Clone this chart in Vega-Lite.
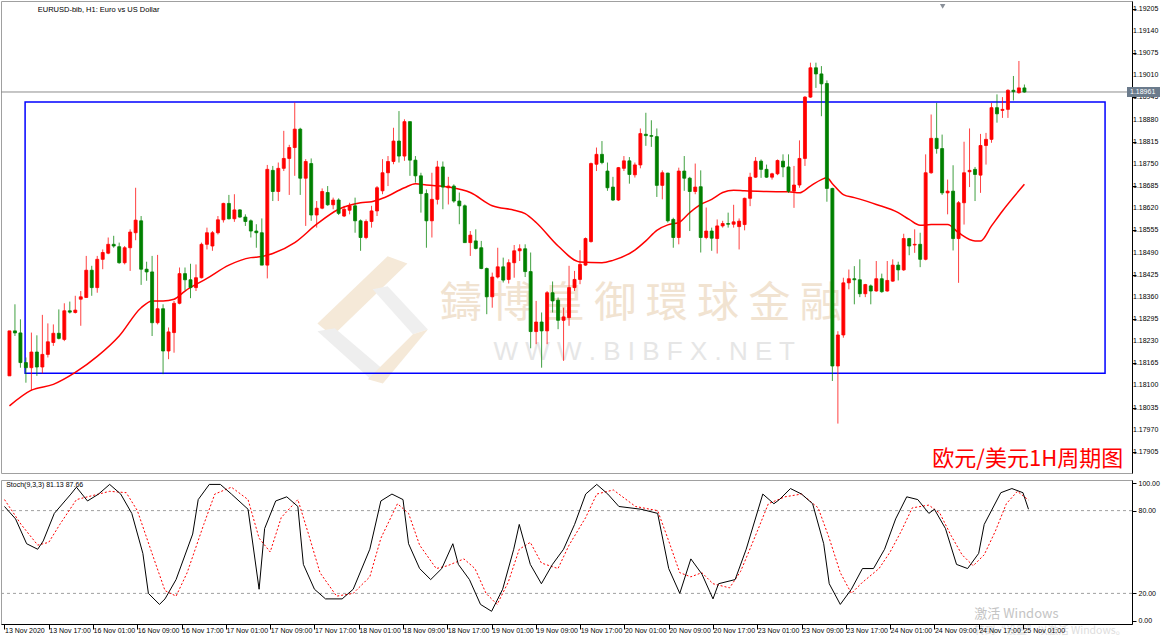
{
"$schema": "https://vega.github.io/schema/vega-lite/v6.json",
"padding": 0,
"background": "white",
"spacing": 4,
"config": {"view": {"stroke": "#a0a0a0", "strokeWidth": 1}, "font": "Liberation Sans", "axis": {"labelOverlap": false, "labelFlush": false}},
"datasets": {
"bars": [
{"i":0,"o":1.18128,"h":1.18260,"l":1.18128,"c":1.18260},
{"i":1,"o":1.18260,"h":1.18338,"l":1.18245,"c":1.18254},
{"i":2,"o":1.18254,"h":1.18294,"l":1.18152,"c":1.18167},
{"i":3,"o":1.18167,"h":1.18182,"l":1.18108,"c":1.18152},
{"i":4,"o":1.18152,"h":1.18255,"l":1.18084,"c":1.18198},
{"i":5,"o":1.18198,"h":1.18247,"l":1.18128,"c":1.18154},
{"i":6,"o":1.18154,"h":1.18307,"l":1.18135,"c":1.18191},
{"i":7,"o":1.18191,"h":1.18282,"l":1.18182,"c":1.18228},
{"i":8,"o":1.18226,"h":1.18279,"l":1.18216,"c":1.18253},
{"i":9,"o":1.18253,"h":1.18323,"l":1.18235,"c":1.18238},
{"i":10,"o":1.18235,"h":1.18341,"l":1.18230,"c":1.18319},
{"i":11,"o":1.18319,"h":1.18346,"l":1.18311,"c":1.18315},
{"i":12,"o":1.18314,"h":1.18363,"l":1.18311,"c":1.18321},
{"i":13,"o":1.18353,"h":1.18377,"l":1.18275,"c":1.18360},
{"i":14,"o":1.18358,"h":1.18480,"l":1.18358,"c":1.18438},
{"i":15,"o":1.18438,"h":1.18451,"l":1.18363,"c":1.18387},
{"i":16,"o":1.18387,"h":1.18480,"l":1.18372,"c":1.18470},
{"i":17,"o":1.18470,"h":1.18499,"l":1.18441,"c":1.18490},
{"i":18,"o":1.18488,"h":1.18534,"l":1.18485,"c":1.18514},
{"i":19,"o":1.18514,"h":1.18539,"l":1.18504,"c":1.18509},
{"i":20,"o":1.18507,"h":1.18519,"l":1.18457,"c":1.18460},
{"i":21,"o":1.18460,"h":1.18509,"l":1.18455,"c":1.18504},
{"i":22,"o":1.18504,"h":1.18558,"l":1.18436,"c":1.18550},
{"i":23,"o":1.18548,"h":1.18680,"l":1.18526,"c":1.18585},
{"i":24,"o":1.18583,"h":1.18597,"l":1.18395,"c":1.18441},
{"i":25,"o":1.18441,"h":1.18463,"l":1.18407,"c":1.18433},
{"i":26,"o":1.18433,"h":1.18480,"l":1.18245,"c":1.18284},
{"i":27,"o":1.18284,"h":1.18483,"l":1.18279,"c":1.18325},
{"i":28,"o":1.18325,"h":1.18338,"l":1.18133,"c":1.18201},
{"i":29,"o":1.18201,"h":1.18270,"l":1.18177,"c":1.18257},
{"i":30,"o":1.18255,"h":1.18348,"l":1.18196,"c":1.18341},
{"i":31,"o":1.18341,"h":1.18446,"l":1.18338,"c":1.18428},
{"i":32,"o":1.18428,"h":1.18446,"l":1.18379,"c":1.18410},
{"i":33,"o":1.18410,"h":1.18457,"l":1.18356,"c":1.18387},
{"i":34,"o":1.18387,"h":1.18455,"l":1.18377,"c":1.18416},
{"i":35,"o":1.18416,"h":1.18519,"l":1.18414,"c":1.18514},
{"i":36,"o":1.18514,"h":1.18563,"l":1.18499,"c":1.18548},
{"i":37,"o":1.18509,"h":1.18553,"l":1.18495,"c":1.18548},
{"i":38,"o":1.18548,"h":1.18597,"l":1.18543,"c":1.18586},
{"i":39,"o":1.18586,"h":1.18636,"l":1.18578,"c":1.18634},
{"i":40,"o":1.18634,"h":1.18659,"l":1.18587,"c":1.18589},
{"i":41,"o":1.18589,"h":1.18661,"l":1.18580,"c":1.18615},
{"i":42,"o":1.18615,"h":1.18617,"l":1.18592,"c":1.18594},
{"i":43,"o":1.18594,"h":1.18602,"l":1.18568,"c":1.18581},
{"i":44,"o":1.18583,"h":1.18587,"l":1.18534,"c":1.18553},
{"i":45,"o":1.18553,"h":1.18573,"l":1.18504,"c":1.18548},
{"i":46,"o":1.18548,"h":1.18590,"l":1.18453,"c":1.18453},
{"i":47,"o":1.18453,"h":1.18747,"l":1.18414,"c":1.18734},
{"i":48,"o":1.18731,"h":1.18744,"l":1.18641,"c":1.18669},
{"i":49,"o":1.18669,"h":1.18754,"l":1.18641,"c":1.18737},
{"i":50,"o":1.18737,"h":1.18847,"l":1.18729,"c":1.18766},
{"i":51,"o":1.18766,"h":1.18806,"l":1.18659,"c":1.18798},
{"i":52,"o":1.18798,"h":1.18930,"l":1.18715,"c":1.18852},
{"i":53,"o":1.18852,"h":1.18856,"l":1.18659,"c":1.18708},
{"i":54,"o":1.18708,"h":1.18764,"l":1.18568,"c":1.18757},
{"i":55,"o":1.18751,"h":1.18766,"l":1.18583,"c":1.18600},
{"i":56,"o":1.18600,"h":1.18641,"l":1.18563,"c":1.18620},
{"i":57,"o":1.18620,"h":1.18678,"l":1.18617,"c":1.18669},
{"i":58,"o":1.18666,"h":1.18685,"l":1.18627,"c":1.18630},
{"i":59,"o":1.18630,"h":1.18651,"l":1.18617,"c":1.18644},
{"i":60,"o":1.18644,"h":1.18649,"l":1.18600,"c":1.18605},
{"i":61,"o":1.18597,"h":1.18627,"l":1.18594,"c":1.18617},
{"i":62,"o":1.18614,"h":1.18636,"l":1.18602,"c":1.18627},
{"i":63,"o":1.18627,"h":1.18651,"l":1.18548,"c":1.18583},
{"i":64,"o":1.18583,"h":1.18587,"l":1.18495,"c":1.18534},
{"i":65,"o":1.18534,"h":1.18587,"l":1.18529,"c":1.18581},
{"i":66,"o":1.18581,"h":1.18627,"l":1.18563,"c":1.18612},
{"i":67,"o":1.18612,"h":1.18685,"l":1.18597,"c":1.18680},
{"i":68,"o":1.18671,"h":1.18764,"l":1.18661,"c":1.18724},
{"i":69,"o":1.18724,"h":1.18773,"l":1.18685,"c":1.18757},
{"i":70,"o":1.18757,"h":1.18856,"l":1.18749,"c":1.18817},
{"i":71,"o":1.18817,"h":1.18905,"l":1.18754,"c":1.18773},
{"i":72,"o":1.18773,"h":1.18881,"l":1.18759,"c":1.18874},
{"i":73,"o":1.18874,"h":1.18874,"l":1.18715,"c":1.18761},
{"i":74,"o":1.18761,"h":1.18773,"l":1.18695,"c":1.18715},
{"i":75,"o":1.18715,"h":1.18724,"l":1.18607,"c":1.18663},
{"i":76,"o":1.18663,"h":1.18675,"l":1.18504,"c":1.18583},
{"i":77,"o":1.18583,"h":1.18724,"l":1.18534,"c":1.18646},
{"i":78,"o":1.18646,"h":1.18759,"l":1.18631,"c":1.18741},
{"i":79,"o":1.18741,"h":1.18757,"l":1.18617,"c":1.18682},
{"i":80,"o":1.18680,"h":1.18712,"l":1.18631,"c":1.18685},
{"i":81,"o":1.18685,"h":1.18690,"l":1.18636,"c":1.18641},
{"i":82,"o":1.18641,"h":1.18666,"l":1.18573,"c":1.18627},
{"i":83,"o":1.18627,"h":1.18631,"l":1.18519,"c":1.18519},
{"i":84,"o":1.18519,"h":1.18553,"l":1.18480,"c":1.18541},
{"i":85,"o":1.18524,"h":1.18558,"l":1.18499,"c":1.18502},
{"i":86,"o":1.18504,"h":1.18524,"l":1.18441,"c":1.18443},
{"i":87,"o":1.18443,"h":1.18446,"l":1.18309,"c":1.18360},
{"i":88,"o":1.18360,"h":1.18431,"l":1.18328,"c":1.18418},
{"i":89,"o":1.18418,"h":1.18504,"l":1.18414,"c":1.18448},
{"i":90,"o":1.18448,"h":1.18475,"l":1.18402,"c":1.18409},
{"i":91,"o":1.18411,"h":1.18470,"l":1.18399,"c":1.18460},
{"i":92,"o":1.18460,"h":1.18512,"l":1.18416,"c":1.18495},
{"i":93,"o":1.18495,"h":1.18514,"l":1.18465,"c":1.18501},
{"i":94,"o":1.18501,"h":1.18514,"l":1.18418,"c":1.18434},
{"i":95,"o":1.18434,"h":1.18490,"l":1.18209,"c":1.18258},
{"i":96,"o":1.18258,"h":1.18348,"l":1.18221,"c":1.18286},
{"i":97,"o":1.18286,"h":1.18314,"l":1.18152,"c":1.18260},
{"i":98,"o":1.18260,"h":1.18377,"l":1.18221,"c":1.18372},
{"i":99,"o":1.18372,"h":1.18405,"l":1.18314,"c":1.18348},
{"i":100,"o":1.18350,"h":1.18358,"l":1.18265,"c":1.18291},
{"i":101,"o":1.18291,"h":1.18328,"l":1.18172,"c":1.18301},
{"i":102,"o":1.18299,"h":1.18451,"l":1.18275,"c":1.18387},
{"i":103,"o":1.18387,"h":1.18436,"l":1.18377,"c":1.18411},
{"i":104,"o":1.18411,"h":1.18497,"l":1.18397,"c":1.18455},
{"i":105,"o":1.18453,"h":1.18534,"l":1.18451,"c":1.18531},
{"i":106,"o":1.18522,"h":1.18754,"l":1.18519,"c":1.18751},
{"i":107,"o":1.18749,"h":1.18798,"l":1.18729,"c":1.18778},
{"i":108,"o":1.18778,"h":1.18817,"l":1.18749,"c":1.18754},
{"i":109,"o":1.18729,"h":1.18754,"l":1.18671,"c":1.18680},
{"i":110,"o":1.18682,"h":1.18712,"l":1.18641,"c":1.18644},
{"i":111,"o":1.18644,"h":1.18741,"l":1.18641,"c":1.18739},
{"i":112,"o":1.18737,"h":1.18773,"l":1.18729,"c":1.18759},
{"i":113,"o":1.18759,"h":1.18770,"l":1.18692,"c":1.18719},
{"i":114,"o":1.18718,"h":1.18754,"l":1.18710,"c":1.18747},
{"i":115,"o":1.18747,"h":1.18854,"l":1.18737,"c":1.18839},
{"i":116,"o":1.18837,"h":1.18900,"l":1.18803,"c":1.18833},
{"i":117,"o":1.18833,"h":1.18878,"l":1.18800,"c":1.18831},
{"i":118,"o":1.18830,"h":1.18854,"l":1.18653,"c":1.18687},
{"i":119,"o":1.18687,"h":1.18731,"l":1.18646,"c":1.18724},
{"i":120,"o":1.18723,"h":1.18724,"l":1.18578,"c":1.18583},
{"i":121,"o":1.18587,"h":1.18592,"l":1.18504,"c":1.18534},
{"i":122,"o":1.18534,"h":1.18739,"l":1.18514,"c":1.18729},
{"i":123,"o":1.18729,"h":1.18773,"l":1.18671,"c":1.18708},
{"i":124,"o":1.18708,"h":1.18712,"l":1.18553,"c":1.18669},
{"i":125,"o":1.18669,"h":1.18751,"l":1.18661,"c":1.18682},
{"i":126,"o":1.18683,"h":1.18731,"l":1.18490,"c":1.18534},
{"i":127,"o":1.18534,"h":1.18622,"l":1.18529,"c":1.18553},
{"i":128,"o":1.18553,"h":1.18563,"l":1.18495,"c":1.18532},
{"i":129,"o":1.18531,"h":1.18587,"l":1.18487,"c":1.18568},
{"i":130,"o":1.18568,"h":1.18583,"l":1.18563,"c":1.18575},
{"i":131,"o":1.18575,"h":1.18607,"l":1.18563,"c":1.18573},
{"i":132,"o":1.18573,"h":1.18630,"l":1.18563,"c":1.18580},
{"i":133,"o":1.18566,"h":1.18590,"l":1.18499,"c":1.18582},
{"i":134,"o":1.18572,"h":1.18651,"l":1.18555,"c":1.18649},
{"i":135,"o":1.18649,"h":1.18724,"l":1.18626,"c":1.18711},
{"i":136,"o":1.18711,"h":1.18770,"l":1.18709,"c":1.18758},
{"i":137,"o":1.18758,"h":1.18763,"l":1.18709,"c":1.18734},
{"i":138,"o":1.18734,"h":1.18748,"l":1.18709,"c":1.18711},
{"i":139,"o":1.18711,"h":1.18724,"l":1.18704,"c":1.18721},
{"i":140,"o":1.18721,"h":1.18763,"l":1.18717,"c":1.18760},
{"i":141,"o":1.18758,"h":1.18778,"l":1.18711,"c":1.18741},
{"i":142,"o":1.18741,"h":1.18778,"l":1.18665,"c":1.18670},
{"i":143,"o":1.18670,"h":1.18744,"l":1.18621,"c":1.18688},
{"i":144,"o":1.18688,"h":1.18819,"l":1.18680,"c":1.18766},
{"i":145,"o":1.18766,"h":1.18949,"l":1.18744,"c":1.18946},
{"i":146,"o":1.18946,"h":1.19047,"l":1.18944,"c":1.19032},
{"i":147,"o":1.19032,"h":1.19047,"l":1.18973,"c":1.19014},
{"i":148,"o":1.19014,"h":1.19037,"l":1.18890,"c":1.18985},
{"i":149,"o":1.18986,"h":1.18995,"l":1.18639,"c":1.18678},
{"i":150,"o":1.18678,"h":1.18680,"l":1.18113,"c":1.18157},
{"i":151,"o":1.18157,"h":1.18259,"l":1.17988,"c":1.18248},
{"i":152,"o":1.18248,"h":1.18416,"l":1.18240,"c":1.18401},
{"i":153,"o":1.18401,"h":1.18440,"l":1.18382,"c":1.18413},
{"i":154,"o":1.18413,"h":1.18450,"l":1.18338,"c":1.18410},
{"i":155,"o":1.18410,"h":1.18470,"l":1.18359,"c":1.18369},
{"i":156,"o":1.18369,"h":1.18398,"l":1.18359,"c":1.18396},
{"i":157,"o":1.18392,"h":1.18396,"l":1.18338,"c":1.18377},
{"i":158,"o":1.18377,"h":1.18465,"l":1.18375,"c":1.18413},
{"i":159,"o":1.18413,"h":1.18428,"l":1.18372,"c":1.18375},
{"i":160,"o":1.18377,"h":1.18465,"l":1.18375,"c":1.18408},
{"i":161,"o":1.18406,"h":1.18470,"l":1.18404,"c":1.18453},
{"i":162,"o":1.18453,"h":1.18463,"l":1.18408,"c":1.18439},
{"i":163,"o":1.18439,"h":1.18545,"l":1.18436,"c":1.18531},
{"i":164,"o":1.18531,"h":1.18533,"l":1.18482,"c":1.18509},
{"i":165,"o":1.18512,"h":1.18558,"l":1.18489,"c":1.18514},
{"i":166,"o":1.18514,"h":1.18548,"l":1.18447,"c":1.18470},
{"i":167,"o":1.18470,"h":1.18778,"l":1.18467,"c":1.18724},
{"i":168,"o":1.18724,"h":1.18895,"l":1.18721,"c":1.18825},
{"i":169,"o":1.18825,"h":1.18929,"l":1.18780,"c":1.18795},
{"i":170,"o":1.18795,"h":1.18836,"l":1.18659,"c":1.18665},
{"i":171,"o":1.18665,"h":1.18704,"l":1.18602,"c":1.18670},
{"i":172,"o":1.18670,"h":1.18746,"l":1.18496,"c":1.18531},
{"i":173,"o":1.18531,"h":1.18641,"l":1.18401,"c":1.18636},
{"i":174,"o":1.18636,"h":1.18815,"l":1.18572,"c":1.18724},
{"i":175,"o":1.18727,"h":1.18854,"l":1.18682,"c":1.18731},
{"i":176,"o":1.18734,"h":1.18741,"l":1.18641,"c":1.18719},
{"i":177,"o":1.18717,"h":1.18838,"l":1.18665,"c":1.18804},
{"i":178,"o":1.18804,"h":1.18841,"l":1.18748,"c":1.18822},
{"i":179,"o":1.18822,"h":1.18929,"l":1.18812,"c":1.18915},
{"i":180,"o":1.18915,"h":1.18954,"l":1.18871,"c":1.18897},
{"i":181,"o":1.18907,"h":1.18946,"l":1.18885,"c":1.18910},
{"i":182,"o":1.18910,"h":1.18969,"l":1.18885,"c":1.18966},
{"i":183,"o":1.18966,"h":1.19008,"l":1.18936,"c":1.18962},
{"i":184,"o":1.18959,"h":1.19052,"l":1.18956,"c":1.18973},
{"i":185,"o":1.18973,"h":1.18983,"l":1.18959,"c":1.18961}
],
"ma": [
{"i":0,"v":1.18040},{"i":4,"v":1.18086},{"i":8,"v":1.18103},{"i":12,"v":1.18138},{"i":16,"v":1.18185},{"i":20,"v":1.18245},{"i":24,"v":1.18328},{"i":26,"v":1.18348},{"i":28,"v":1.18348},{"i":30,"v":1.18353},{"i":32,"v":1.18377},{"i":36,"v":1.18414},{"i":40,"v":1.18453},{"i":44,"v":1.18475},{"i":46,"v":1.18478},{"i":48,"v":1.18487},{"i":52,"v":1.18519},{"i":56,"v":1.18573},{"i":60,"v":1.18617},{"i":64,"v":1.18636},{"i":66,"v":1.18639},{"i":68,"v":1.18649},{"i":72,"v":1.18680},{"i":74,"v":1.18692},{"i":76,"v":1.18688},{"i":80,"v":1.18682},{"i":84,"v":1.18666},{"i":88,"v":1.18627},{"i":92,"v":1.18614},{"i":94,"v":1.18604},{"i":96,"v":1.18578},{"i":100,"v":1.18509},{"i":104,"v":1.18462},{"i":108,"v":1.18460},{"i":110,"v":1.18467},{"i":114,"v":1.18497},{"i":116,"v":1.18524},{"i":118,"v":1.18555},{"i":120,"v":1.18571},{"i":122,"v":1.18578},{"i":124,"v":1.18607},{"i":126,"v":1.18631},{"i":128,"v":1.18646},{"i":130,"v":1.18666},{"i":132,"v":1.18673},{"i":134,"v":1.18671},{"i":138,"v":1.18669},{"i":142,"v":1.18668},{"i":144,"v":1.18665},{"i":146,"v":1.18685},{"i":148,"v":1.18704},{"i":149,"v":1.18709},{"i":150,"v":1.18692},{"i":152,"v":1.18660},{"i":154,"v":1.18651},{"i":158,"v":1.18631},{"i":162,"v":1.18607},{"i":164,"v":1.18587},{"i":166,"v":1.18570},{"i":168,"v":1.18572},{"i":171,"v":1.18572},{"i":173,"v":1.18548},{"i":176,"v":1.18524},{"i":177,"v":1.18524},{"i":179,"v":1.18568},{"i":181,"v":1.18612},{"i":185,"v":1.18690}
],
"k": [
{"i":0,"v":83},{"i":2,"v":74},{"i":4,"v":56},{"i":6,"v":52},{"i":7,"v":58},{"i":9,"v":78},{"i":12,"v":92},{"i":13,"v":97},{"i":15,"v":87},{"i":17,"v":92},{"i":19,"v":99},{"i":21,"v":92},{"i":23,"v":78},{"i":25,"v":49},{"i":26,"v":20},{"i":28,"v":12},{"i":29,"v":16},{"i":31,"v":30},{"i":34,"v":63},{"i":35,"v":88},{"i":37,"v":99},{"i":39,"v":99},{"i":41,"v":92},{"i":44,"v":81},{"i":46,"v":23},{"i":47,"v":67},{"i":49,"v":87},{"i":51,"v":90},{"i":53,"v":83},{"i":54,"v":41},{"i":56,"v":23},{"i":58,"v":16},{"i":61,"v":16},{"i":63,"v":23},{"i":66,"v":52},{"i":68,"v":87},{"i":70,"v":92},{"i":72,"v":88},{"i":73,"v":56},{"i":75,"v":38},{"i":77,"v":30},{"i":79,"v":38},{"i":81,"v":56},{"i":82,"v":41},{"i":84,"v":30},{"i":86,"v":12},{"i":88,"v":7},{"i":90,"v":23},{"i":92,"v":52},{"i":93,"v":70},{"i":95,"v":41},{"i":97,"v":27},{"i":99,"v":41},{"i":101,"v":52},{"i":103,"v":70},{"i":105,"v":92},{"i":107,"v":99},{"i":109,"v":92},{"i":111,"v":83},{"i":115,"v":81},{"i":118,"v":78},{"i":120,"v":38},{"i":122,"v":20},{"i":124,"v":45},{"i":126,"v":34},{"i":128,"v":16},{"i":129,"v":27},{"i":132,"v":30},{"i":134,"v":52},{"i":137,"v":92},{"i":139,"v":85},{"i":140,"v":88},{"i":142,"v":96},{"i":144,"v":92},{"i":146,"v":85},{"i":148,"v":56},{"i":149,"v":27},{"i":151,"v":12},{"i":153,"v":23},{"i":155,"v":38},{"i":157,"v":38},{"i":159,"v":52},{"i":161,"v":74},{"i":163,"v":90},{"i":165,"v":88},{"i":167,"v":78},{"i":168,"v":81},{"i":170,"v":67},{"i":172,"v":41},{"i":174,"v":38},{"i":176,"v":49},{"i":177,"v":70},{"i":180,"v":93},{"i":182,"v":96},{"i":184,"v":93},{"i":185,"v":81}
],
"d": [
{"i":0,"v":88},{"i":3,"v":70},{"i":6,"v":55},{"i":8,"v":57},{"i":10,"v":70},{"i":13,"v":88},{"i":16,"v":91},{"i":19,"v":94},{"i":22,"v":93},{"i":24,"v":80},{"i":27,"v":45},{"i":29,"v":22},{"i":31,"v":18},{"i":33,"v":35},{"i":36,"v":70},{"i":38,"v":92},{"i":41,"v":97},{"i":44,"v":88},{"i":46,"v":60},{"i":48,"v":50},{"i":50,"v":75},{"i":53,"v":88},{"i":55,"v":62},{"i":57,"v":35},{"i":60,"v":18},{"i":63,"v":20},{"i":66,"v":32},{"i":68,"v":60},{"i":71,"v":85},{"i":73,"v":78},{"i":75,"v":55},{"i":78,"v":38},{"i":80,"v":40},{"i":83,"v":45},{"i":85,"v":38},{"i":87,"v":20},{"i":89,"v":12},{"i":91,"v":28},{"i":93,"v":52},{"i":95,"v":57},{"i":97,"v":42},{"i":100,"v":38},{"i":102,"v":55},{"i":105,"v":75},{"i":107,"v":92},{"i":110,"v":95},{"i":114,"v":83},{"i":118,"v":80},{"i":120,"v":58},{"i":122,"v":35},{"i":124,"v":32},{"i":126,"v":35},{"i":128,"v":27},{"i":131,"v":24},{"i":133,"v":36},{"i":136,"v":65},{"i":138,"v":85},{"i":141,"v":90},{"i":144,"v":92},{"i":147,"v":82},{"i":149,"v":60},{"i":151,"v":35},{"i":153,"v":20},{"i":155,"v":28},{"i":158,"v":38},{"i":160,"v":50},{"i":162,"v":65},{"i":164,"v":82},{"i":167,"v":84},{"i":169,"v":78},{"i":171,"v":62},{"i":173,"v":48},{"i":175,"v":40},{"i":177,"v":48},{"i":179,"v":65},{"i":181,"v":85},{"i":183,"v":94},{"i":185,"v":87.66}
],
"logo": [
{"i":66.2,"p":1.18303,"part":"A"},{"i":66.2,"p":1.18303,"part":"B"},{"i":66.2,"p":1.18303,"part":"C"},{"i":66.2,"p":1.18303,"part":"D"}
],
"ticks": [
{"a":203.7,"p":1.17905},{"a":203.7,"p":1.17970},{"a":203.7,"p":1.18035},{"a":203.7,"p":1.18100},{"a":203.7,"p":1.18165},{"a":203.7,"p":1.18230},{"a":203.7,"p":1.18295},{"a":203.7,"p":1.18360},{"a":203.7,"p":1.18425},{"a":203.7,"p":1.18490},{"a":203.7,"p":1.18555},{"a":203.7,"p":1.18620},{"a":203.7,"p":1.18685},{"a":203.7,"p":1.18750},{"a":203.7,"p":1.18815},{"a":203.7,"p":1.18880},{"a":203.7,"p":1.18945},{"a":203.7,"p":1.19010},{"a":203.7,"p":1.19075},{"a":203.7,"p":1.19140},{"a":203.7,"p":1.19205}
]
},
"vconcat": [
{
"width": 1131, "height": 472,
"layer": [
{"data": {"name": "logo"},
 "mark": {"type": "point", "filled": true, "size": 14400, "opacity": 1, "strokeWidth": 0},
 "encoding": {"x": {"field": "i", "type": "quantitative", "scale": {"domain": [-0.63, 203.7], "nice": false, "zero": false}, "axis": null},
  "y": {"field": "p", "type": "quantitative", "scale": {"domain": [1.17843, 1.19228], "nice": false, "zero": false}, "title": null},
  "shape": {"field": "part", "type": "nominal", "legend": null, "scale": {"domain": ["A", "B", "C", "D"], "range": ["M0.25,-1L0.58,-0.88L-0.67,0.33L-0.92,0.12Z", "M-0.92,0.25L-0.63,0.2L0.25,0.95L-0.03,1.05Z", "M0,-0.45L0.25,-0.5L0.92,0.22L0.67,0.3Z", "M0.67,0.3L0.92,0.22L0.17,1.12L-0.08,1.05Z"]}},
  "color": {"field": "part", "type": "nominal", "legend": null, "scale": {"domain": ["A", "B", "C", "D"], "range": ["#f5e9d8", "#eeeeee", "#efefef", "#f5e9d8"]}}}},
{"data": {"values": [{"i": 115.1, "p": 1.18339, "t": "鑄 博 皇 御 環 球 金 融"}]},
 "mark": {"type": "text", "font": "Noto Sans CJK TC", "fontSize": 42, "fill": "#f1e3d1", "align": "center", "baseline": "middle"},
 "encoding": {"x": {"field": "i", "type": "quantitative", "scale": {"domain": [-0.63, 203.7], "nice": false, "zero": false}, "axis": null},
  "y": {"field": "p", "type": "quantitative", "scale": {"domain": [1.17843, 1.19228], "nice": false, "zero": false}, "title": null},
  "text": {"field": "t"}}},
{"data": {"values": [{"i": 115.7, "p": 1.18198, "t": "W  W  W  .  B  I  B  F  X  .  N  E  T"}]},
 "mark": {"type": "text", "font": "Liberation Sans", "fontSize": 26, "fill": "#e6e6e6", "align": "center", "baseline": "middle"},
 "encoding": {"x": {"field": "i", "type": "quantitative", "scale": {"domain": [-0.63, 203.7], "nice": false, "zero": false}, "axis": null},
  "y": {"field": "p", "type": "quantitative", "scale": {"domain": [1.17843, 1.19228], "nice": false, "zero": false}, "title": null},
  "text": {"field": "t"}}},
{"data": {"values": [{"a": 2.85, "b": 199.7, "p1": 1.18932, "p2": 1.18136}]},
 "mark": {"type": "rect", "filled": false, "color": "#0000ff", "strokeWidth": 1.5},
 "encoding": {"x": {"field": "a", "type": "quantitative", "scale": {"domain": [-0.63, 203.7], "nice": false, "zero": false}, "axis": null},
  "x2": {"field": "b"},
  "y": {"field": "p1", "type": "quantitative", "scale": {"domain": [1.17843, 1.19228], "nice": false, "zero": false}, "title": null},
  "y2": {"field": "p2"}}},
{"data": {"values": [{"p": 1.18961}]},
 "mark": {"type": "rule", "color": "#8c8c8c", "strokeWidth": 1},
 "encoding": {"y": {"field": "p", "type": "quantitative", "scale": {"domain": [1.17843, 1.19228], "nice": false, "zero": false}, "title": null}}},
{"data": {"name": "ma"},
 "mark": {"type": "line", "color": "#ff0000", "strokeWidth": 1.5, "interpolate": "monotone"},
 "encoding": {"x": {"field": "i", "type": "quantitative", "scale": {"domain": [-0.63, 203.7], "nice": false, "zero": false}, "axis": null},
  "y": {"field": "v", "type": "quantitative", "scale": {"domain": [1.17843, 1.19228], "nice": false, "zero": false}, "title": null}}},
{"data": {"name": "bars"},
 "mark": {"type": "rule", "strokeWidth": 1, "opacity": 0.75},
 "encoding": {"x": {"field": "i", "type": "quantitative", "scale": {"domain": [-0.63, 203.7], "nice": false, "zero": false}, "axis": null},
  "y": {"field": "l", "type": "quantitative", "scale": {"domain": [1.17843, 1.19228], "nice": false, "zero": false}, "title": null},
  "y2": {"field": "h"},
  "color": {"condition": {"test": "datum.c >= datum.o", "value": "#ff0000"}, "value": "#008000"}}},
{"data": {"name": "bars"},
 "mark": {"type": "bar", "size": 3, "strokeWidth": 0.8},
 "encoding": {"x": {"field": "i", "type": "quantitative", "scale": {"domain": [-0.63, 203.7], "nice": false, "zero": false}, "axis": null},
  "y": {"field": "o", "type": "quantitative", "scale": {"domain": [1.17843, 1.19228], "nice": false, "zero": false},
   "axis": {"orient": "right", "values": [1.17905,1.1797,1.18035,1.181,1.18165,1.1823,1.18295,1.1836,1.18425,1.1849,1.18555,1.1862,1.18685,1.1875,1.18815,1.1888,1.18945,1.1901,1.19075,1.1914,1.19205], "labels": false, "title": null, "grid": false, "tickSize": 4, "domainColor": "#000000", "tickColor": "#000000"}},
  "y2": {"field": "c"},
  "color": {"condition": {"test": "datum.c >= datum.o", "value": "#ff0000"}, "value": "#008000"},
  "stroke": {"condition": {"test": "datum.c >= datum.o", "value": "#ff0000"}, "value": "#008000"}}},
{"data": {"name": "ticks"},
 "mark": {"type": "text", "fill": "#000000", "font": "Liberation Sans", "fontSize": 7, "align": "left", "baseline": "middle", "dx": 6},
 "encoding": {"x": {"field": "a", "type": "quantitative", "scale": {"domain": [-0.63, 203.7], "nice": false, "zero": false}, "axis": null},
  "y": {"field": "p", "type": "quantitative", "scale": {"domain": [1.17843, 1.19228], "nice": false, "zero": false}, "title": null},
  "text": {"field": "p", "type": "quantitative", "format": ".5f"}}},
{"data": {"values": [{"a": 203.7, "p": 1.18961}]},
 "mark": {"type": "rect", "color": "#6b7b8c", "x2Offset": 33, "yOffset": -5, "y2Offset": 5},
 "encoding": {"x": {"field": "a", "type": "quantitative", "scale": {"domain": [-0.63, 203.7], "nice": false, "zero": false}, "axis": null},
  "x2": {"field": "a"},
  "y": {"field": "p", "type": "quantitative", "scale": {"domain": [1.17843, 1.19228], "nice": false, "zero": false}, "title": null},
  "y2": {"field": "p"}}},
{"data": {"values": [{"a": 203.7, "p": 1.18961, "t": "1.18961"}]},
 "mark": {"type": "text", "fill": "#ffffff", "font": "Liberation Sans", "fontSize": 7, "align": "left", "baseline": "middle", "dx": 3},
 "encoding": {"x": {"field": "a", "type": "quantitative", "scale": {"domain": [-0.63, 203.7], "nice": false, "zero": false}, "axis": null},
  "y": {"field": "p", "type": "quantitative", "scale": {"domain": [1.17843, 1.19228], "nice": false, "zero": false}, "title": null},
  "text": {"field": "t"}}},
{"data": {"values": [{"a": 5.15, "p": 1.19202, "t": "EURUSD-bib, H1:  Euro vs US Dollar"}]},
 "mark": {"type": "text", "fill": "#000000", "font": "Liberation Sans", "fontSize": 7.5, "align": "left", "baseline": "middle"},
 "encoding": {"x": {"field": "a", "type": "quantitative", "scale": {"domain": [-0.63, 203.7], "nice": false, "zero": false}, "axis": null},
  "y": {"field": "p", "type": "quantitative", "scale": {"domain": [1.17843, 1.19228], "nice": false, "zero": false}, "title": null},
  "text": {"field": "t"}}},
{"data": {"values": [{"a": 203.0, "p": 1.17885, "t": "欧元/美元1H周期图"}]},
 "mark": {"type": "text", "fill": "#ff0000", "font": "Noto Sans CJK SC", "fontSize": 22, "align": "right", "baseline": "middle"},
 "encoding": {"x": {"field": "a", "type": "quantitative", "scale": {"domain": [-0.63, 203.7], "nice": false, "zero": false}, "axis": null},
  "y": {"field": "p", "type": "quantitative", "scale": {"domain": [1.17843, 1.19228], "nice": false, "zero": false}, "title": null},
  "text": {"field": "t"}}},
{"data": {"values": [{"a": 170.1, "p": 1.19212}]},
 "mark": {"type": "point", "shape": "triangle-down", "filled": true, "color": "#8a9099", "size": 30, "opacity": 1},
 "encoding": {"x": {"field": "a", "type": "quantitative", "scale": {"domain": [-0.63, 203.7], "nice": false, "zero": false}, "axis": null},
  "y": {"field": "p", "type": "quantitative", "scale": {"domain": [1.17843, 1.19228], "nice": false, "zero": false}, "title": null}}}
]
},
{
"width": 1131, "height": 144,
"layer": [
{"data": {"values": [{"v": 80}, {"v": 20}]},
 "mark": {"type": "rule", "color": "#a0a0a0", "strokeWidth": 1, "strokeDash": [3, 3]},
 "encoding": {"y": {"field": "v", "type": "quantitative", "scale": {"domain": [-2.2, 102.2], "nice": false, "zero": false}, "title": null}}},
{"data": {"values": [{"a": 175.2, "p": 5, "t": "激活 Windows"}]},
 "mark": {"type": "text", "fill": "#c4c4c4", "font": "Noto Sans CJK SC", "fontSize": 13, "align": "left", "baseline": "middle"},
 "encoding": {"x": {"field": "a", "type": "quantitative", "scale": {"domain": [-0.63, 203.7], "nice": false, "zero": false}, "title": null},
  "y": {"field": "p", "type": "quantitative", "scale": {"domain": [-2.2, 102.2], "nice": false, "zero": false}, "title": null},
  "text": {"field": "t"}}},
{"data": {"values": [{"a": 175.2, "p": -7.5, "t": "转到“设置”以激活 Windows。"}]},
 "mark": {"type": "text", "fill": "#dddddd", "font": "Noto Sans CJK SC", "fontSize": 10.5, "align": "left", "baseline": "middle"},
 "encoding": {"x": {"field": "a", "type": "quantitative", "scale": {"domain": [-0.63, 203.7], "nice": false, "zero": false}, "title": null},
  "y": {"field": "p", "type": "quantitative", "scale": {"domain": [-2.2, 102.2], "nice": false, "zero": false}, "title": null},
  "text": {"field": "t"}}},
{"data": {"name": "d"},
 "mark": {"type": "line", "color": "#ff0000", "strokeWidth": 1, "strokeDash": [2, 2]},
 "encoding": {"x": {"field": "i", "type": "quantitative", "scale": {"domain": [-0.63, 203.7], "nice": false, "zero": false}, "title": null},
  "y": {"field": "v", "type": "quantitative", "scale": {"domain": [-2.2, 102.2], "nice": false, "zero": false}, "title": null}}},
{"data": {"name": "k"},
 "mark": {"type": "line", "color": "#000000", "strokeWidth": 1},
 "encoding": {"x": {"field": "i", "type": "quantitative", "scale": {"domain": [-0.63, 203.7], "nice": false, "zero": false},
   "axis": {"orient": "bottom", "values": [0,8,16,24,32,40,48,56,64,72,80,88,96,104,112,120,128,136,144,152,160,168,176,184],
    "labelExpr": "['13 Nov 2020','13 Nov 17:00','16 Nov 01:00','16 Nov 09:00','16 Nov 17:00','17 Nov 01:00','17 Nov 09:00','17 Nov 17:00','18 Nov 01:00','18 Nov 09:00','18 Nov 17:00','19 Nov 01:00','19 Nov 09:00','19 Nov 17:00','20 Nov 01:00','20 Nov 09:00','20 Nov 17:00','23 Nov 01:00','23 Nov 09:00','23 Nov 17:00','24 Nov 01:00','24 Nov 09:00','24 Nov 17:00','25 Nov 01:00'][round(datum.value/8)]",
    "labelAlign": "left", "labelPadding": -3, "labelDx": 1, "tickSize": 5, "title": null, "grid": false, "domainColor": "#000000", "tickColor": "#000000", "labelColor": "#000000", "labelFont": "Liberation Sans", "labelFontSize": 7, "labelOverlap": false, "labelBound": false, "labelFlush": false, "zindex": 1}},
  "y": {"field": "v", "type": "quantitative", "scale": {"domain": [-2.2, 102.2], "nice": false, "zero": false},
   "axis": {"orient": "right", "values": [0, 20, 80, 100], "format": ".2f", "title": null, "grid": false, "tickSize": 4, "labelPadding": 2, "domainColor": "#000000", "tickColor": "#000000", "labelColor": "#000000", "labelFont": "Liberation Sans", "labelFontSize": 7, "labelFlush": false, "labelOverlap": false}}}},
{"data": {"values": [{"a": 0.3, "p": 98.4, "t": "Stoch(9,3,3) 81.13 87.66"}]},
 "mark": {"type": "text", "fill": "#000000", "font": "Liberation Sans", "fontSize": 7, "align": "left", "baseline": "middle"},
 "encoding": {"x": {"field": "a", "type": "quantitative", "scale": {"domain": [-0.63, 203.7], "nice": false, "zero": false}, "title": null},
  "y": {"field": "p", "type": "quantitative", "scale": {"domain": [-2.2, 102.2], "nice": false, "zero": false}, "title": null},
  "text": {"field": "t"}}}
]
}
]
}
